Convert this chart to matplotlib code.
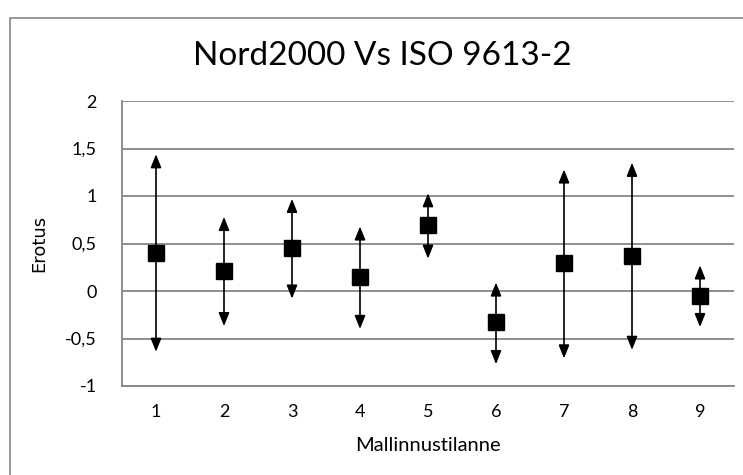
import matplotlib.pyplot as plt
from matplotlib.patches import Rectangle
from matplotlib.ticker import FuncFormatter

# values
tilanne = [1, 2, 3, 4, 5, 6, 7, 8, 9]
erotus = [0.40, 0.21, 0.45, 0.15, 0.69, -0.33, 0.29, 0.37, -0.05]
ylaraja = [1.44, 0.78, 0.97, 0.68, 1.03, 0.09, 1.28, 1.35, 0.27]
alaraja = [-0.64, -0.37, -0.08, -0.40, 0.34, -0.77, -0.71, -0.62, -0.38]

narrow = ['Lato', 'DejaVu Sans']
grey = '#868686'

fig = plt.figure(figsize=(7.43, 4.75), dpi=100)
ax = fig.add_axes([122 / 743, 1 - 386 / 475, 612 / 743, 285 / 475])

# outer chart border
fig.patches.append(Rectangle((10 / 743, -0.1), 1.2, 1 - 18 / 475 + 0.1,
                             transform=fig.transFigure, fill=False,
                             edgecolor=grey, linewidth=1.2))

for x, m, hi, lo in zip(tilanne, erotus, ylaraja, alaraja):
    for end in (hi, lo):
        ax.annotate('', xy=(x, end), xytext=(x, m),
                    arrowprops=dict(arrowstyle='-|>,head_length=0.8,head_width=0.32',
                                    color='black', lw=1.2, shrinkA=0, shrinkB=0))
ax.plot(tilanne, erotus, 's', color='black', markersize=11, zorder=5)

ax.set_xlim(0.5, 9.5)
ax.set_ylim(-1, 2)
ax.set_yticks([-1, -0.5, 0, 0.5, 1, 1.5, 2])
ax.set_xticks(tilanne)
ax.yaxis.set_major_formatter(FuncFormatter(lambda v, p: ('%g' % v).replace('.', ',')))
ax.grid(axis='y', color=grey, linewidth=1.3)
ax.set_axisbelow(True)
ax.tick_params(axis='y', length=0, pad=18, labelsize=13)
ax.tick_params(axis='x', length=0, pad=13, labelsize=13)
for lab in ax.get_xticklabels() + ax.get_yticklabels():
    lab.set_family(narrow)
for s in ['top', 'right']:
    ax.spines[s].set_visible(False)
for s in ['left', 'bottom']:
    ax.spines[s].set_color(grey)
    ax.spines[s].set_linewidth(1.3)

fig.text(382 / 743, 1 - 65 / 475, 'Nord2000 Vs ISO 9613-2', family=narrow,
         fontsize=24, ha='center', va='baseline')
ax.set_xlabel('Mallinnustilanne', family=narrow, fontsize=14.5, labelpad=12)
ax.set_ylabel('Erotus', fontsize=13, labelpad=12)

fig.savefig('out.png', dpi=100)
